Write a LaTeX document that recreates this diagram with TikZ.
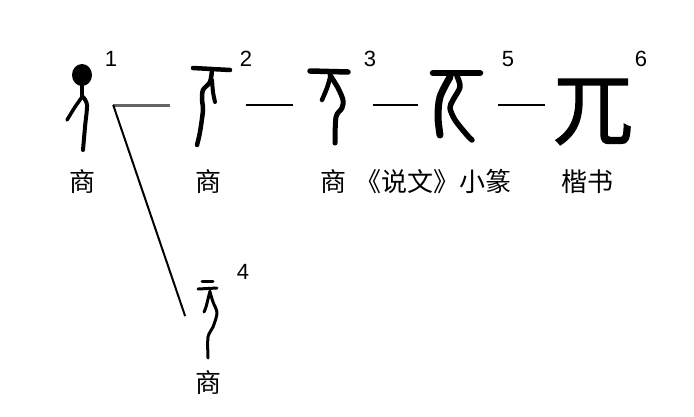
\documentclass[tikz,border=0pt]{standalone}
\usepackage{fontspec}
\setmainfont{Liberation Sans}
\newfontfamily\cjk{Noto Sans CJK SC}
\newfontfamily\cjkheavy[FakeBold=1.5]{Noto Sans CJK SC}
\usepackage{tikz}
\usetikzlibrary{positioning}

\definecolor{linkgrey}{RGB}{100,100,100}

\tikzset{
  glyph/.style={minimum height=80pt, inner sep=0pt},
  ink/.style={line cap=round, line join=round, line width=#1},
  ink/.default=4pt,
  link/.style={line width=2.5pt, shorten <=15pt, shorten >=#1},
  link/.default=15pt,
  lab/.style={font=\cjk\fontsize{26}{26}\selectfont, inner sep=0pt},
  num/.style={font=\fontsize{22}{22}\selectfont, inner sep=0pt}
}

\begin{document}
\begin{tikzpicture}[x=1pt, y=-1pt]
\useasboundingbox (0,0) rectangle (694,416);

% Boxes that hold the glyphs
\node[glyph, minimum width=32pt] (g1) at (82,105) {};
\node[glyph, minimum width=45pt] (g2) at (208,105) {};
\node[glyph, minimum width=49pt] (g3) at (333,105) {};
\node[glyph, minimum width=50pt] (g5) at (458,105) {};
\node[font=\cjkheavy\fontsize{80}{80}\selectfont, inner sep=0pt] (g6) at (593,112) {兀};
\node[glyph, minimum width=44pt] (g4) at (208,318) {};

% Glyph 1
\begin{scope}[shift={(g1.center)}]
  \fill (0,-30) ellipse [x radius=10pt, y radius=11pt];
  \draw[ink=4.5pt] (0,-22) -- (0,-8);
  \draw[ink=3.5pt] plot[smooth] coordinates {(0,-8) (-7,2) (-15,15)};
  \draw[ink=4pt] plot[smooth] coordinates {(1,-8) (5,0) (3,22) (1,45)};
\end{scope}

% Glyph 2
\begin{scope}[shift={(g2.center)}]
  \draw[ink=4.5pt] (-15,-37) -- (22,-35);
  \draw[ink=4.5pt] plot[smooth] coordinates {(4,-35) (2,-23) (-5,-15) (-6,-5) (-5,5) (-8,27) (-11,40)};
  \draw[ink=4pt] plot[smooth] coordinates {(4,-25) (5,-13) (7,-3)};
\end{scope}

% Glyph 3
\begin{scope}[shift={(g3.center)}]
  \draw[ink=5.5pt] (-23,-34) -- (15,-33);
  \draw[ink=5pt] plot[smooth] coordinates {(-3,-30) (5,-17) (10,-5) (9,3) (3,12) (2,38)};
  \draw[ink=4.5pt] plot[smooth] coordinates {(-3,-27) (-6,-17) (-11,-5)};
\end{scope}

% Glyph 5
\begin{scope}[shift={(g5.center)}]
  \draw[ink=6.5pt] (-25,-32) -- (22,-32);
  \draw[ink=7pt] plot[smooth] coordinates {(-8,-28) (-18,-8) (-20,12) (-18,30)};
  \draw[ink=5.5pt] plot[smooth] coordinates {(-1,-29) (2,-18) (-5,-5) (-8,3) (-3,15) (9,30) (14,35)};
\end{scope}

% Glyph 4
\begin{scope}[shift={(g4.center)}]
  \draw[ink=3pt] (-6,-37) -- (5,-37);
  \draw[ink=3pt] (-10,-29) -- (9,-30);
  \draw[ink=3pt] plot[smooth] coordinates {(2,-27) (-2,-11) (-4,-6)};
  \draw[ink=3pt] plot[smooth] coordinates {(2,-26) (5,-16) (9,-5) (5,9) (0,19) (0,40)};
\end{scope}

% Lines between the forms
\coordinate (fork) at ([xshift=15pt]g1.east);
\draw[linkgrey, line width=3pt] (fork) -- ([xshift=-15pt]g2.west);
\draw[line width=2pt, shorten >=2pt] (fork) -- (g4.west);
\foreach \a/\b in {g2/g3, g3/g5}
  \draw[link] (\a) -- (\b);
\draw[link=8pt] (g5.east) -- (g6.west |- g5.east);

% Numbers
\foreach \n/\x/\y in {1/111/59, 2/246/59, 3/370/59, 5/508/59, 6/641/59, 4/243/272}
  \node[num] (n\n) at (\x,\y) {\n};

% Labels under the forms
\node[lab, below=24pt of g1] (l1) {商};
\node[lab, below=24pt of g2] (l2) {商};
\node[lab, below=24pt of g3] (l3) {商};
\node[lab, right=9pt of l3] (l5) {《说文》小篆};
\node[lab, right=50pt of l5] (l6) {楷书};
\node[lab, below=12pt of g4] (l4) {商};
\end{tikzpicture}
\end{document}
